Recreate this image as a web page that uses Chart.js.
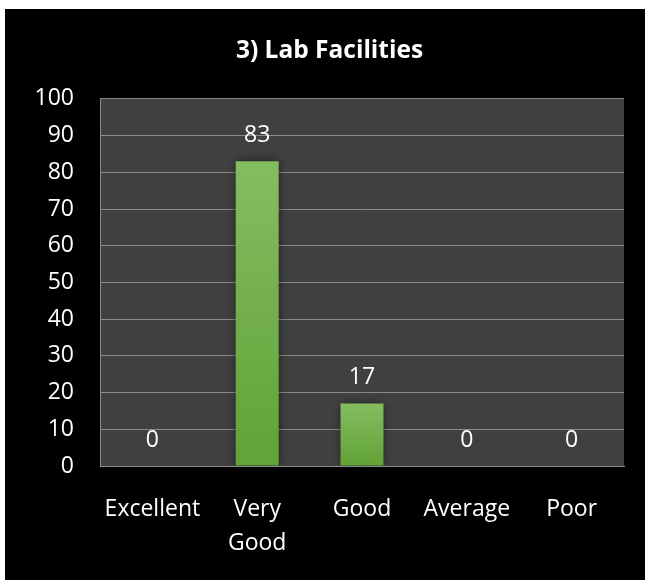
<!DOCTYPE html>
<html>
<head>
<meta charset="utf-8">
<script src="https://cdn.jsdelivr.net/npm/chart.js@4"></script>
<style>
  html, body { margin: 0; padding: 0; background: #ffffff; width: 645px; height: 580px; overflow: hidden; }
  #wrap { position: absolute; left: 5px; top: 9px; width: 640px; height: 571px; background: #000000; }
  canvas { display: block; }
</style>
</head>
<body>
<div id="wrap"><canvas id="c" width="640" height="571"></canvas></div>
<script>
const categories = [['Excellent'], ['Very', 'Good'], ['Good'], ['Average'], ['Poor']];
const values = [0, 83, 17, 0, 0];
const yTicks = [0, 10, 20, 30, 40, 50, 60, 70, 80, 90, 100];
const titleText = '3) Lab Facilities';

const FONT = "'Open Sans', 'Noto Sans', sans-serif";

const plotBg = {
  id: 'plotBg',
  beforeDraw(chart) {
    const { ctx, chartArea: a } = chart;
    ctx.save();
    ctx.fillStyle = '#404040';
    ctx.fillRect(a.left, a.top, a.right - a.left, a.bottom - a.top);
    ctx.restore();
  }
};

const barShadow = {
  id: 'barShadow',
  beforeDatasetDraw(chart) {
    const ctx = chart.ctx;
    ctx.save();
    ctx.shadowColor = 'rgba(0,0,0,0.55)';
    ctx.shadowBlur = 9;
    ctx.shadowOffsetX = 0;
    ctx.shadowOffsetY = 0;
  },
  afterDatasetDraw(chart) {
    chart.ctx.restore();
  }
};

const valueLabels = {
  id: 'valueLabels',
  afterDatasetsDraw(chart) {
    const ctx = chart.ctx;
    const meta = chart.getDatasetMeta(0);
    ctx.save();
    ctx.fillStyle = '#ffffff';
    ctx.font = '23px ' + FONT;
    ctx.textAlign = 'center';
    ctx.textBaseline = 'middle';
    meta.data.forEach((bar, i) => {
      ctx.fillText(String(values[i]), bar.x, bar.y - 26);
    });
    ctx.restore();
  }
};

new Chart(document.getElementById('c'), {
  type: 'bar',
  data: {
    labels: categories,
    datasets: [{
      data: values,
      yAxisID: 'y',
      backgroundColor(context) {
        const chart = context.chart;
        if (!chart.chartArea) return '#70ae48';
        const ys = chart.scales.y;
        const top = ys.getPixelForValue(context.raw);
        const bottom = ys.getPixelForValue(0);
        if (!(bottom - top > 0)) return '#70ae48';
        const g = chart.ctx.createLinearGradient(0, top, 0, bottom);
        g.addColorStop(0, '#83bd61');
        g.addColorStop(1, '#62a236');
        return g;
      },
      borderWidth: 0,
      categoryPercentage: 1.0,
      barPercentage: 0.41
    }]
  },
  options: {
    responsive: false,
    animation: false,
    devicePixelRatio: 1,
    layout: { padding: { left: 9, right: 0, top: 0, bottom: 0 } },
    plugins: {
      legend: { display: false },
      tooltip: { enabled: false },
      title: {
        display: true,
        text: titleText,
        color: '#ffffff',
        font: { family: FONT, size: 24.5, weight: 'bold', lineHeight: 1.2 },
        padding: { top: 27, bottom: 33.5 }
      }
    },
    scales: {
      x: {
        grid: { display: false, drawTicks: false },
        border: { display: true, color: '#8c8c8c', width: 1 },
        ticks: {
          color: '#ffffff',
          font: { family: FONT, size: 23, lineHeight: 1.45 },
          padding: 27,
          maxRotation: 0,
          autoSkip: false
        },
        afterFit(scale) { scale.height = 114; }
      },
      y: {
        min: 0,
        max: 100,
        afterBuildTicks(scale) { scale.ticks = yTicks.map(v => ({ value: v })); },
        grid: { color: '#8a8a8a', lineWidth: 1, drawTicks: false },
        border: { display: true, color: '#8c8c8c', width: 1 },
        ticks: {
          color: '#ffffff',
          font: { family: FONT, size: 23 },
          padding: 26
        },
        afterFit(scale) { scale.width = 86; }
      },
      yRight: {
        position: 'right',
        display: true,
        min: 0,
        max: 100,
        grid: { display: false, drawTicks: false },
        border: { display: false },
        ticks: { display: false },
        afterFit(scale) { scale.width = 21; }
      }
    }
  },
  plugins: [plotBg, barShadow, valueLabels]
});
</script>
</body>
</html>
